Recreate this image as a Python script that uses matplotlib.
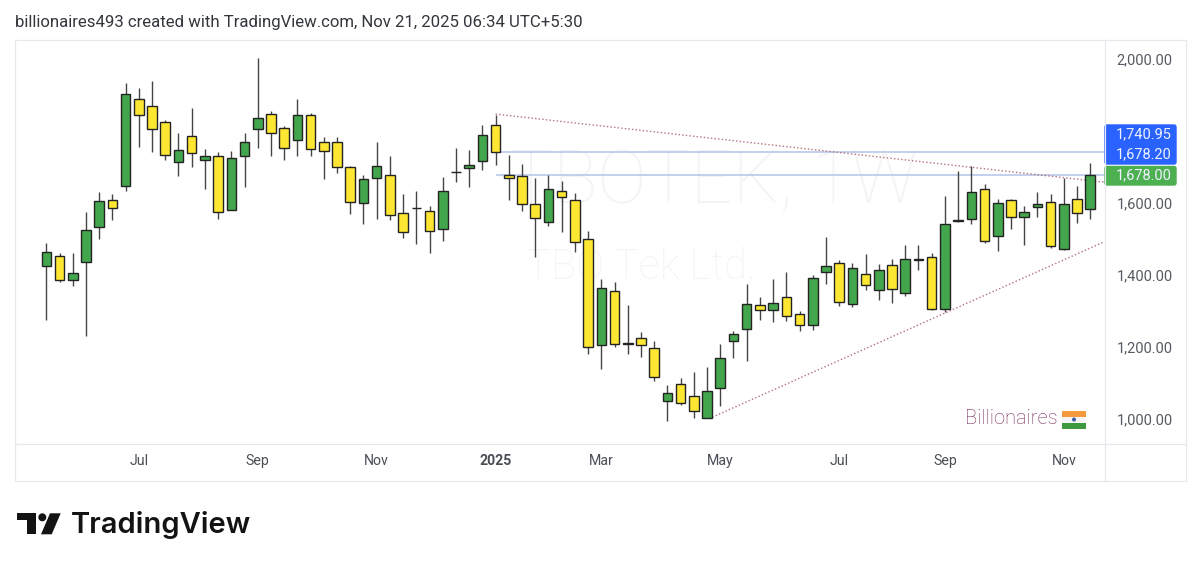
import matplotlib
matplotlib.use("Agg")
import matplotlib.pyplot as plt
from matplotlib.patches import Polygon, Rectangle, Circle, FancyBboxPatch

plt.rcParams['font.family'] = ['Roboto', 'DejaVu Sans']

opens = [1425,1452,1387,1437,1533,1609,1648,1889,1869,1824,1715,1785,1719,1731,1581,1730,1806,1848,1807,1775,
         1844,1769,1770,1700,1601,1669,1677,1573,1587,1578,1529,1686,1696,1716,1816,1679,1674,1598,1546,1633,
         1608,1499,1205,1356,1210,1224,1197,1049,1096,1063,1004,1087,1218,1250,1318,1304,1338,1291,1260,1407,
         1433,1320,1402,1359,1429,1349,1444,1449,1306,1549,1556,1638,1509,1609,1561,1589,1604,1472,1610,1583]
highs = [1489,1460,1461,1574,1630,1625,1932,1919,1938,1831,1794,1865,1749,1743,1744,1795,2002,1855,1814,1890,
         1849,1783,1783,1704,1678,1770,1730,1624,1634,1591,1671,1753,1747,1817,1845,1733,1707,1669,1677,1660,
         1627,1521,1390,1380,1316,1243,1216,1094,1114,1131,1144,1207,1244,1375,1338,1388,1407,1299,1401,1506,
         1441,1432,1457,1430,1444,1483,1483,1460,1619,1689,1702,1652,1610,1610,1591,1630,1624,1670,1647,1710]
lows = [1276,1381,1369,1231,1500,1553,1633,1756,1742,1720,1676,1701,1638,1556,1581,1645,1754,1730,1720,1731,
        1730,1666,1682,1569,1542,1556,1553,1504,1486,1461,1494,1657,1645,1693,1706,1608,1579,1451,1537,1519,
        1465,1181,1138,1201,1181,1171,1106,995,1039,1003,1002,1037,1169,1162,1274,1269,1271,1245,1247,1376,
        1314,1312,1359,1331,1322,1341,1414,1303,1298,1547,1543,1489,1467,1527,1484,1562,1474,1469,1544,1555]
closes = [1465,1387,1406,1524,1606,1587,1903,1844,1806,1732,1747,1738,1731,1576,1725,1770,1836,1795,1754,1845,
          1749,1745,1700,1602,1667,1703,1568,1520,1586,1523,1634,1687,1705,1790,1742,1669,1598,1557,1639,1617,
          1493,1200,1364,1209,1209,1205,1116,1071,1044,1023,1078,1169,1235,1319,1304,1323,1286,1260,1391,1424,
          1324,1419,1371,1414,1360,1444,1443,1306,1542,1553,1631,1494,1600,1561,1576,1597,1481,1598,1571,1678]

x_ticks = [7, 16, 25, 34, 42, 51, 60, 68, 77]
x_labels = ['Jul', 'Sep', 'Nov', '2025', 'Mar', 'May', 'Jul', 'Sep', 'Nov']
y_ticks = [1000, 1200, 1400, 1600, 1800, 2000]
y_labels = ['1,000.00', '1,200.00', '1,400.00', '1,600.00', '', '2,000.00']
level_high, level_low, last_price = 1740.95, 1678.20, 1678.00
upper_trend_x, upper_trend_y = [34, 80.04], [1847, 1658]
lower_trend_x, lower_trend_y = [50.4, 80.04], [1005, 1492]

W, H = 1200, 568
GREEN, YELLOW, EDGE, WICK = '#43a64d', '#fde732', '#232323', '#454545'
GRID = '#e6e8ee'

fig = plt.figure(figsize=(W / 100, H / 100), dpi=100, facecolor='white')
L, R, T, B = 15, 1104, 40, 443
ax = fig.add_axes([L / W, 1 - B / H, (R - L) / W, (B - T) / H])
ax.set_xlim(-2.37, 80.04)
ax.set_ylim(933.3, 2052.8)
for s in ax.spines.values():
    s.set_visible(False)

ax.text(0.5, 0.0, '', transform=ax.transAxes)
ax.text(18.5 + 0 + 32, 1600, 'TBOTEK, 1W', ha='center', va='baseline', fontsize=53,
        color='#f3f4f6', fontweight='light', zorder=0)
ax.text(45, 1390, 'TBO Tek Ltd.', ha='center', va='baseline', fontsize=30,
        color='#f3f4f6', fontweight='light', zorder=0)

xs = list(range(len(opens)))
ax.vlines(xs, lows, highs, color=WICK, lw=1.0, zorder=3)
colors = [GREEN if c >= o else YELLOW for o, c in zip(opens, closes)]
ax.bar(xs, [abs(c - o) for o, c in zip(opens, closes)], bottom=[min(o, c) for o, c in zip(opens, closes)],
       width=0.72, color=colors, edgecolor=EDGE, linewidth=1.0, zorder=4)

ax.hlines(level_high, 34.4, 80.04, color='#b2c4e8', lw=1.1, zorder=2)
ax.hlines(level_low, 34, 80.04, color='#b2c4e8', lw=1.1, zorder=2)
ax.plot(upper_trend_x, upper_trend_y, color='#b5707c', lw=1.0, ls=(0, (1, 1.6)), zorder=2)
ax.plot(lower_trend_x, lower_trend_y, color='#b5707c', lw=1.0, ls=(0, (1, 1.6)), zorder=2)

ax.set_xticks(x_ticks)
ax.set_xticklabels(x_labels, fontsize=10.2, color='#4a4e57')
ax.get_xticklabels()[3].set_fontweight('bold')
ax.tick_params(axis='x', length=0, pad=8)
ax.yaxis.tick_right()
ax.set_yticks(y_ticks)
ax.set_yticklabels(y_labels, fontsize=10.5, color='#555a63')
ax.tick_params(axis='y', length=0, pad=9)

ov = fig.add_axes([0, 0, 1, 1], zorder=10)
ov.set_xlim(0, W)
ov.set_ylim(H, 0)
ov.axis('off')
ov.patch.set_alpha(0)

# frame
ov.add_patch(Rectangle((14.5, 39.5), 1171, 441.5, fill=False, ec=GRID, lw=0.9))
ov.plot([1104.5, 1104.5], [39.5, 481], color=GRID, lw=0.9)
ov.plot([14.5, 1185.5], [443.5, 443.5], color=GRID, lw=0.9)

# price labels
for y0, h, col, lab, yc in [(124, 41, '#2962ff', None, None), (165.5, 20.5, '#4caf50', None, None)]:
    ov.add_patch(FancyBboxPatch((1105, y0 + 1), 71, h - 2, boxstyle='round,pad=0,rounding_size=2',
                                fc=col, ec=col, lw=1))
for yc, val in [(134, level_high), (154.5, level_low), (175.5, last_price)]:
    ov.text(1172, yc, f'{val:,.2f}', ha='right', va='center', fontsize=10.5, color='#eef2ff')

# watermark text + flag
ov.text(965, 419, 'Billionaires', ha='left', va='center', fontsize=14.5, color='#7b2d5f', fontweight='light')
ov.add_patch(Rectangle((1062, 411), 24, 6, fc='#f59a3c', ec='none'))
ov.add_patch(Rectangle((1062, 417), 24, 5.5, fc='#f4f4f4', ec='none'))
ov.add_patch(Rectangle((1062, 422.5), 24, 6, fc='#3f9a3f', ec='none'))
ov.add_patch(Circle((1074, 419.5), 2, fc='#3b5aa8', ec='none'))

# header
ov.text(15, 22, 'billionaires493 created with TradingView.com, Nov 21, 2025 06:34 UTC+5:30',
        ha='left', va='center', fontsize=12.1, color='#33363d')

# logo
LOGO = '#131313'
ov.add_patch(Polygon([(17.3, 513.3), (36, 513.3), (36, 534.3), (26.7, 534.3), (26.7, 520), (17.3, 520)], fc=LOGO, ec='none'))
ov.add_patch(Circle((42.3, 517.3), 4.0, fc=LOGO, ec='none'))
ov.add_patch(Polygon([(50, 513.3), (60.7, 513.3), (51.7, 534.3), (41, 534.3)], fc=LOGO, ec='none'))
ov.text(71, 525, 'TradingView', ha='left', va='center', fontsize=21, color=LOGO,
        family=['Inter', 'DejaVu Sans'], fontweight='semibold')

fig.savefig('out.png', dpi=100, facecolor='white')
